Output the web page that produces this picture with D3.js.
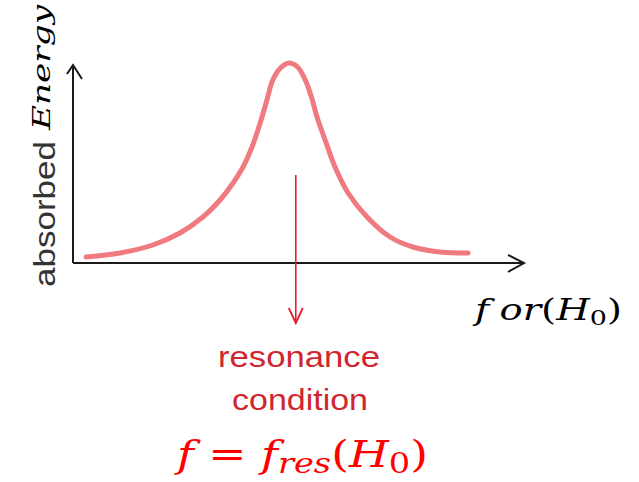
<!DOCTYPE html>
<html lang="en">
	<head>
		<meta charset="utf-8">
		<title>D3: resonance absorption curve</title>
		<script src="https://d3js.org/d3.v7.min.js"></script>
		<style type="text/css">
			body { margin: 0; background: #fff; }
		</style>
	</head>
	<body>
		<script type="text/javascript">
			// absorbed energy vs frequency (arbitrary units)
			var freq = [2.9, 10.4, 17.7, 23.7, 28.8, 32.6, 35.5, 37.7, 39.7, 41.5, 43.0, 44.3, 46.0, 47.9,
				49.8, 51.6, 53.0, 54.1, 55.9, 58.1, 61.0, 65.2, 70.3, 75.4, 81.4, 87.6];
			var energy = [3, 5, 9, 15, 23, 31.5, 40, 48, 58, 70, 81.5, 91.5, 97.5, 100,
				98, 91, 82, 73, 61.5, 48, 35, 23, 13, 8, 5.5, 5];
			var fRes = 49.4;
			var arrowSpan = [44, -30];

			var w = 639, h = 482;

			var svg = d3.select("body").append("svg")
				.attr("width", w)
				.attr("height", h);

			var xscale = d3.scaleLinear().domain([0, 100]).range([73, 524]);
			var yscale = d3.scaleLinear().domain([0, 100]).range([263, 63]);

			var data = freq.map(function(f, i){ return {f: f, e: energy[i]}; });

			// axes
			var axisColor = "#1a1a1a";
			svg.append("line")
				.attr("x1", xscale(0)).attr("y1", yscale(0))
				.attr("x2", xscale(0)).attr("y2", yscale(99))
				.attr("stroke", axisColor).attr("stroke-width", 2);
			svg.append("line")
				.attr("x1", xscale(0)).attr("y1", yscale(0))
				.attr("x2", xscale(100)).attr("y2", yscale(0))
				.attr("stroke", axisColor).attr("stroke-width", 2);
			// arrow heads
			var yTop = yscale(99), xEnd = xscale(100);
			svg.append("path")
				.attr("d", "M" + (xscale(0) - 6) + "," + (yTop + 9) + "L" + xscale(0) + "," + yTop + "L" + (xscale(0) + 9) + "," + (yTop + 14))
				.attr("fill", "none").attr("stroke", axisColor).attr("stroke-width", 2);
			svg.append("path")
				.attr("d", "M" + (xEnd - 16) + "," + (yscale(0) - 8) + "L" + xEnd + "," + yscale(0) + "L" + (xEnd - 16) + "," + (yscale(0) + 9))
				.attr("fill", "none").attr("stroke", axisColor).attr("stroke-width", 2);

			// curve
			var line = d3.line()
				.x(function(d){ return xscale(d.f); })
				.y(function(d){ return yscale(d.e); })
				.curve(d3.curveCatmullRom.alpha(0.5));

			svg.append("path")
				.datum(data)
				.attr("d", line)
				.attr("fill", "none")
				.attr("stroke", "#f07a80")
				.attr("stroke-width", 5)
				.attr("stroke-linecap", "round");

			// resonance arrow
			var red = "#e51f2b";
			svg.append("line")
				.attr("x1", xscale(fRes)).attr("y1", yscale(arrowSpan[0]))
				.attr("x2", xscale(fRes)).attr("y2", yscale(arrowSpan[1]))
				.attr("stroke", red).attr("stroke-width", 1.6);
			svg.append("path")
				.attr("d", "M" + (xscale(fRes) - 7) + "," + (yscale(arrowSpan[1]) - 15) + "L" + xscale(fRes) + "," + yscale(arrowSpan[1]) + "L" + (xscale(fRes) + 7) + "," + (yscale(arrowSpan[1]) - 15))
				.attr("fill", "none").attr("stroke", red).attr("stroke-width", 1.8);

			// y label
			var ylab = svg.append("g").attr("transform", "translate(55,287) rotate(-90)");
			ylab.append("text")
				.attr("x", 0).attr("y", 0)
				.attr("font-family", "Liberation Sans, Arial, sans-serif")
				.attr("font-size", 29)
				.attr("fill", "#333")
				.attr("textLength", 146)
				.attr("lengthAdjust", "spacingAndGlyphs")
				.text("absorbed");
			ylab.append("text")
				.attr("x", 157).attr("y", -5)
				.attr("font-family", "DejaVu Serif, serif")
				.attr("font-style", "italic")
				.attr("font-size", 25)
				.attr("fill", "#000")
				.attr("textLength", 125)
				.attr("lengthAdjust", "spacingAndGlyphs")
				.text("Energy");

			// x label
			var xlab = svg.append("text")
				.attr("x", 475).attr("y", 320)
				.attr("font-family", "DejaVu Serif, serif")
				.attr("font-size", 30)
				.attr("fill", "#000")
				.attr("textLength", 147)
				.attr("lengthAdjust", "spacingAndGlyphs");
			xlab.append("tspan").attr("font-style", "italic").text("f");
			xlab.append("tspan").attr("font-style", "italic").attr("dx", 8).text("or");
			xlab.append("tspan").text("(");
			xlab.append("tspan").attr("font-style", "italic").text("H");
			xlab.append("tspan").attr("font-size", 21).attr("dy", 5).text("0");
			xlab.append("tspan").attr("dy", -5).text(")");

			// annotation
			svg.append("text")
				.attr("x", 218).attr("y", 367)
				.attr("font-family", "Liberation Sans, Arial, sans-serif")
				.attr("font-size", 29)
				.attr("fill", "#d0262e")
				.attr("textLength", 162)
				.attr("lengthAdjust", "spacingAndGlyphs")
				.text("resonance");
			svg.append("text")
				.attr("x", 232).attr("y", 410)
				.attr("font-family", "Liberation Sans, Arial, sans-serif")
				.attr("font-size", 29)
				.attr("fill", "#d0262e")
				.attr("textLength", 136)
				.attr("lengthAdjust", "spacingAndGlyphs")
				.text("condition");

			var eq = svg.append("text")
				.attr("x", 177).attr("y", 467)
				.attr("font-family", "DejaVu Serif, serif")
				.attr("font-size", 38)
				.attr("fill", "#ff0000")
				.attr("textLength", 251)
				.attr("lengthAdjust", "spacingAndGlyphs");
			eq.append("tspan").attr("font-style", "italic").text("f");
			eq.append("tspan").attr("dx", 12).text("=");
			eq.append("tspan").attr("dx", 12).attr("font-style", "italic").text("f");
			eq.append("tspan").attr("font-style", "italic").attr("font-size", 28).attr("dy", 6).text("res");
			eq.append("tspan").attr("dy", -6).text("(");
			eq.append("tspan").attr("font-style", "italic").text("H");
			eq.append("tspan").attr("font-size", 28).attr("dy", 6).text("0");
			eq.append("tspan").attr("dy", -6).text(")");
		</script>
	</body>
</html>
